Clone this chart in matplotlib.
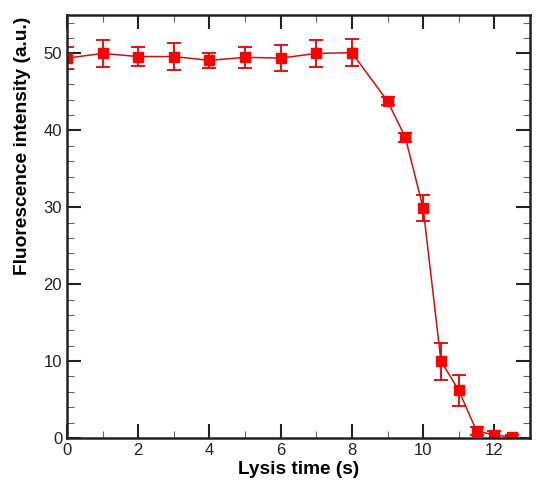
import matplotlib.pyplot as plt
from matplotlib.ticker import MultipleLocator

plt.rcParams['font.family'] = ['Liberation Sans', 'DejaVu Sans']

# Data
time_s = [0, 1, 2, 3, 4, 5, 6, 7, 8, 9, 9.5, 10, 10.5, 11, 11.5, 12, 12.5]
intensity = [49.4, 50.0, 49.6, 49.6, 49.1, 49.5, 49.4, 50.0, 50.1, 43.8, 39.1,
             29.9, 10.0, 6.2, 0.9, 0.4, 0.1]
error = [1.45, 1.8, 1.2, 1.8, 0.95, 1.35, 1.7, 1.8, 1.75, 0.5, 0.6,
         1.7, 2.4, 2.05, 0.5, 0.5, 0.3]

fig = plt.figure(figsize=(5.5, 4.86), dpi=100)
ax = fig.add_axes([0.1218, 0.0988, 0.8418, 0.8703])

ax.errorbar(time_s, intensity, yerr=error, color='#CC1010', ecolor='#E00000',
            linewidth=1.1, elinewidth=1.3, capsize=5, capthick=1.3,
            marker='s', markersize=7.5, markerfacecolor='#FF0000',
            markeredgecolor='#FF0000')

ax.set_xlim(0, 13)
ax.set_ylim(0, 55)
ax.xaxis.set_major_locator(MultipleLocator(2))
ax.xaxis.set_minor_locator(MultipleLocator(1))
ax.yaxis.set_major_locator(MultipleLocator(10))
ax.yaxis.set_minor_locator(MultipleLocator(2))

ax.tick_params(which='both', direction='in', top=True, right=True,
               labelsize=12, colors='#222222')
ax.tick_params(which='major', length=10, width=1.5)
ax.tick_params(which='minor', length=5, width=0.8, color='#666666')
for s in ax.spines.values():
    s.set_linewidth(1.8)
    s.set_color('#222222')

ax.set_xlabel('Lysis time (s)', fontsize=13.7, fontweight='bold', labelpad=2)
ax.set_ylabel('Fluorescence intensity (a.u.)', fontsize=13.8, fontweight='bold')
ax.yaxis.set_label_coords(-0.078, 0.69)

plt.savefig('out.png', dpi=100, facecolor='white')
